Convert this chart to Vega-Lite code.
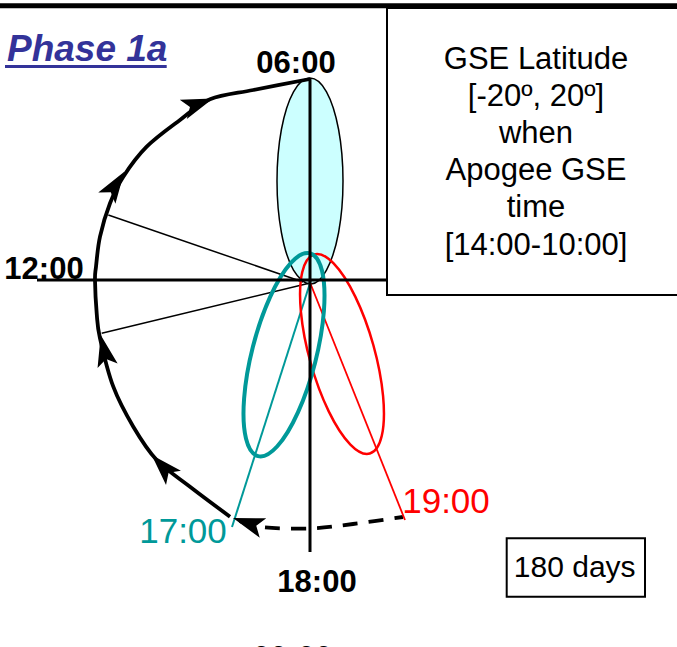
{
  "$schema": "https://vega.github.io/schema/vega-lite/v6.json",
  "width": 677,
  "height": 647,
  "padding": 0,
  "autosize": {"type": "none"},
  "config": {"view": {"stroke": null}},
  "datasets": {
    "blue": [
      {"i":0,"x":0,"y":202},{"i":1,"x":16.5,"y":188.2},{"i":2,"x":28.6,"y":150.5},{"i":3,"x":33,"y":99},
      {"i":4,"x":28.6,"y":47.5},{"i":5,"x":16.5,"y":9.8},{"i":6,"x":1,"y":-4},{"i":7,"x":-16.5,"y":9.8},
      {"i":8,"x":-28.6,"y":47.5},{"i":9,"x":-33,"y":99},{"i":10,"x":-28.6,"y":150.5},{"i":11,"x":-16.5,"y":188.2}
    ],
    "teal": [
      {"i":0,"x":-0.05,"y":26.73},{"i":1,"x":12.02,"y":9.16},{"i":2,"x":13.91,"y":-30.87},{"i":3,"x":5.1,"y":-82.66},
      {"i":4,"x":-12.05,"y":-132.31},{"i":5,"x":-32.92,"y":-166.52},{"i":6,"x":-51.95,"y":-176.13},{"i":7,"x":-64.02,"y":-158.56},
      {"i":8,"x":-65.91,"y":-118.53},{"i":9,"x":-57.1,"y":-66.74},{"i":10,"x":-39.95,"y":-17.09},{"i":11,"x":-19.08,"y":17.12}
    ],
    "red": [
      {"i":0,"x":4.19,"y":25.57},{"i":1,"x":23.62,"y":16.62},{"i":2,"x":45.27,"y":-16.62},{"i":3,"x":63.39,"y":-65.23},
      {"i":4,"x":73.09,"y":-116.2},{"i":5,"x":71.78,"y":-155.84},{"i":6,"x":59.81,"y":-173.57},{"i":7,"x":40.38,"y":-164.62},
      {"i":8,"x":18.73,"y":-131.38},{"i":9,"x":0.61,"y":-82.77},{"i":10,"x":-9.09,"y":-31.8},{"i":11,"x":-7.78,"y":7.84}
    ],
    "orbit": [
      {"i":0,"x":0,"y":201},{"i":1,"x":-56.7,"y":190},{"i":2,"x":-100,"y":180.7},{"i":3,"x":-130,"y":160},
      {"i":4,"x":-163.3,"y":133.3},{"i":5,"x":-186.7,"y":103.3},{"i":6,"x":-200,"y":76.7},{"i":7,"x":-210,"y":43.3},
      {"i":8,"x":-214,"y":13.3},{"i":9,"x":-215,"y":0},{"i":10,"x":-213.3,"y":-33.3},{"i":11,"x":-210,"y":-58.3},
      {"i":12,"x":-196.7,"y":-106.7},{"i":13,"x":-176.7,"y":-146.7},{"i":14,"x":-153.3,"y":-180},{"i":15,"x":-120,"y":-206.7},
      {"i":16,"x":-80,"y":-236.7}
    ],
    "dashed": [
      {"i":0,"x":-70,"y":-241},{"i":1,"x":-50,"y":-247},{"i":2,"x":0,"y":-248.5},{"i":3,"x":43,"y":-244},{"i":4,"x":93,"y":-237}
    ],
    "axes": [
      {"x1":0,"y1":202,"x2":0,"y2":-272},
      {"x1":-273,"y1":0,"x2":77,"y2":0}
    ],
    "topbar": [{"x1":-310,"y1":274.2,"x2":367,"y2":274.2}],
    "thinblack": [
      {"x1":-201.7,"y1":65,"x2":-7,"y2":-2},
      {"x1":-208.3,"y1":-53.3,"x2":0,"y2":-3}
    ],
    "thinteal": [{"x1":1,"y1":0,"x2":-78,"y2":-247}],
    "thinred": [{"x1":-1,"y1":0,"x2":95,"y2":-240}],
    "underline": [{"x1":-305,"y1":213.5,"x2":-143.3,"y2":213.5}],
    "arrows": [
      {"x":-97,"y":181.5,"dir":70},
      {"x":-185.7,"y":108.3,"dir":33.5},
      {"x":-209.3,"y":-55,"dir":-12.6},
      {"x":-158.3,"y":-175,"dir":-43.5},
      {"x":-77,"y":-238,"dir":-71.6}
    ],
    "boxes": [
      {"x1":77,"x2":400,"y1":272,"y2":-15},
      {"x1":196.7,"x2":335,"y1":-258.3,"y2":-316.7}
    ],
    "boldlabels": [
      {"x":-14,"y":207.3,"label":"06:00"},
      {"x":-266,"y":1,"label":"12:00"},
      {"x":7,"y":-311.7,"label":"18:00"},
      {"x":-17.5,"y":-388,"label":"00:00"}
    ],
    "title": [{"x":-303,"y":219,"label":"Phase 1a"}],
    "teallabel": [{"x":-127,"y":-263.3,"label":"17:00"}],
    "redlabel": [{"x":136,"y":-233.3,"label":"19:00"}],
    "boxtext": [{"x":226,"y":211.5,"label":"GSE Latitude\n\u00a0[-20º, 20º]\nwhen\u00a0\nApogee GSE\ntime\n[14:00-10:00]"}],
    "daystext": [{"x":264.7,"y":-288,"label":"180 days"}]
  },
  "layer": [
    {
      "data": {"name": "blue"},
      "mark": {"type": "line", "interpolate": "cardinal-closed", "fill": "#ccffff", "stroke": "black", "strokeWidth": 1.5},
      "encoding": {
        "x": {"field": "x", "type": "quantitative", "axis": null, "scale": {"domain": [-310, 367], "nice": false, "zero": false}},
        "y": {"field": "y", "type": "quantitative", "axis": null, "scale": {"domain": [-367, 280], "nice": false, "zero": false}},
        "order": {"field": "i"}
      }
    },
    {
      "data": {"name": "topbar"},
      "mark": {"type": "rule", "color": "black", "strokeWidth": 5},
      "encoding": {
        "x": {"field": "x1", "type": "quantitative", "axis": null, "scale": {"domain": [-310, 367], "nice": false, "zero": false}},
        "y": {"field": "y1", "type": "quantitative", "axis": null, "scale": {"domain": [-367, 280], "nice": false, "zero": false}},
        "x2": {"field": "x2"},
        "y2": {"field": "y2"}
      }
    },
    {
      "data": {"name": "thinblack"},
      "mark": {"type": "rule", "color": "black", "strokeWidth": 1.5},
      "encoding": {
        "x": {"field": "x1", "type": "quantitative", "axis": null, "scale": {"domain": [-310, 367], "nice": false, "zero": false}},
        "y": {"field": "y1", "type": "quantitative", "axis": null, "scale": {"domain": [-367, 280], "nice": false, "zero": false}},
        "x2": {"field": "x2"},
        "y2": {"field": "y2"}
      }
    },
    {
      "data": {"name": "orbit"},
      "mark": {"type": "line", "interpolate": "cardinal", "color": "black", "strokeWidth": 3.8},
      "encoding": {
        "x": {"field": "x", "type": "quantitative", "axis": null, "scale": {"domain": [-310, 367], "nice": false, "zero": false}},
        "y": {"field": "y", "type": "quantitative", "axis": null, "scale": {"domain": [-367, 280], "nice": false, "zero": false}},
        "order": {"field": "i"}
      }
    },
    {
      "data": {"name": "dashed"},
      "mark": {"type": "line", "interpolate": "cardinal", "color": "black", "strokeWidth": 3.8, "strokeDash": [15, 11]},
      "encoding": {
        "x": {"field": "x", "type": "quantitative", "axis": null, "scale": {"domain": [-310, 367], "nice": false, "zero": false}},
        "y": {"field": "y", "type": "quantitative", "axis": null, "scale": {"domain": [-367, 280], "nice": false, "zero": false}},
        "order": {"field": "i"}
      }
    },
    {
      "data": {"name": "thinteal"},
      "mark": {"type": "rule", "color": "#009999", "strokeWidth": 2},
      "encoding": {
        "x": {"field": "x1", "type": "quantitative", "axis": null, "scale": {"domain": [-310, 367], "nice": false, "zero": false}},
        "y": {"field": "y1", "type": "quantitative", "axis": null, "scale": {"domain": [-367, 280], "nice": false, "zero": false}},
        "x2": {"field": "x2"},
        "y2": {"field": "y2"}
      }
    },
    {
      "data": {"name": "thinred"},
      "mark": {"type": "rule", "color": "#ff0000", "strokeWidth": 1.8},
      "encoding": {
        "x": {"field": "x1", "type": "quantitative", "axis": null, "scale": {"domain": [-310, 367], "nice": false, "zero": false}},
        "y": {"field": "y1", "type": "quantitative", "axis": null, "scale": {"domain": [-367, 280], "nice": false, "zero": false}},
        "x2": {"field": "x2"},
        "y2": {"field": "y2"}
      }
    },
    {
      "data": {"name": "red"},
      "mark": {"type": "line", "interpolate": "cardinal-closed", "color": "#ff0000", "strokeWidth": 2.5},
      "encoding": {
        "x": {"field": "x", "type": "quantitative", "axis": null, "scale": {"domain": [-310, 367], "nice": false, "zero": false}},
        "y": {"field": "y", "type": "quantitative", "axis": null, "scale": {"domain": [-367, 280], "nice": false, "zero": false}},
        "order": {"field": "i"}
      }
    },
    {
      "data": {"name": "teal"},
      "mark": {"type": "line", "interpolate": "cardinal-closed", "color": "#009999", "strokeWidth": 4},
      "encoding": {
        "x": {"field": "x", "type": "quantitative", "axis": null, "scale": {"domain": [-310, 367], "nice": false, "zero": false}},
        "y": {"field": "y", "type": "quantitative", "axis": null, "scale": {"domain": [-367, 280], "nice": false, "zero": false}},
        "order": {"field": "i"}
      }
    },
    {
      "data": {"name": "axes"},
      "mark": {"type": "rule", "color": "black", "strokeWidth": 3},
      "encoding": {
        "x": {"field": "x1", "type": "quantitative", "axis": null, "scale": {"domain": [-310, 367], "nice": false, "zero": false}},
        "y": {"field": "y1", "type": "quantitative", "axis": null, "scale": {"domain": [-367, 280], "nice": false, "zero": false}},
        "x2": {"field": "x2"},
        "y2": {"field": "y2"}
      }
    },
    {
      "data": {"name": "arrows"},
      "mark": {"type": "point", "shape": "M0,0 L0.65,2 L0,1.55 L-0.65,2 Z", "filled": true, "color": "black", "opacity": 1, "size": 1000, "strokeWidth": 0},
      "encoding": {
        "x": {"field": "x", "type": "quantitative", "axis": null, "scale": {"domain": [-310, 367], "nice": false, "zero": false}},
        "y": {"field": "y", "type": "quantitative", "axis": null, "scale": {"domain": [-367, 280], "nice": false, "zero": false}},
        "angle": {"field": "dir", "type": "quantitative", "scale": null}
      }
    },
    {
      "data": {"name": "underline"},
      "mark": {"type": "rule", "color": "#333399", "strokeWidth": 3},
      "encoding": {
        "x": {"field": "x1", "type": "quantitative", "axis": null, "scale": {"domain": [-310, 367], "nice": false, "zero": false}},
        "y": {"field": "y1", "type": "quantitative", "axis": null, "scale": {"domain": [-367, 280], "nice": false, "zero": false}},
        "x2": {"field": "x2"},
        "y2": {"field": "y2"}
      }
    },
    {
      "data": {"name": "boxes"},
      "mark": {"type": "rect", "fill": "white", "stroke": "black", "strokeWidth": 2},
      "encoding": {
        "x": {"field": "x1", "type": "quantitative", "axis": null, "scale": {"domain": [-310, 367], "nice": false, "zero": false}},
        "y": {"field": "y1", "type": "quantitative", "axis": null, "scale": {"domain": [-367, 280], "nice": false, "zero": false}},
        "x2": {"field": "x2"},
        "y2": {"field": "y2"}
      }
    },
    {
      "data": {"name": "title"},
      "mark": {"type": "text", "font": "Liberation Sans", "fontSize": 37, "fontWeight": "bold", "fontStyle": "italic", "color": "#333399", "align": "left", "baseline": "alphabetic"},
      "encoding": {
        "x": {"field": "x", "type": "quantitative", "axis": null, "scale": {"domain": [-310, 367], "nice": false, "zero": false}},
        "y": {"field": "y", "type": "quantitative", "axis": null, "scale": {"domain": [-367, 280], "nice": false, "zero": false}},
        "text": {"field": "label"}
      }
    },
    {
      "data": {"name": "boldlabels"},
      "mark": {"type": "text", "font": "Liberation Sans", "fontSize": 31, "fontWeight": "bold", "color": "black", "align": "center", "baseline": "alphabetic"},
      "encoding": {
        "x": {"field": "x", "type": "quantitative", "axis": null, "scale": {"domain": [-310, 367], "nice": false, "zero": false}},
        "y": {"field": "y", "type": "quantitative", "axis": null, "scale": {"domain": [-367, 280], "nice": false, "zero": false}},
        "text": {"field": "label"}
      }
    },
    {
      "data": {"name": "teallabel"},
      "mark": {"type": "text", "font": "Liberation Sans", "fontSize": 35, "color": "#009999", "align": "center", "baseline": "alphabetic"},
      "encoding": {
        "x": {"field": "x", "type": "quantitative", "axis": null, "scale": {"domain": [-310, 367], "nice": false, "zero": false}},
        "y": {"field": "y", "type": "quantitative", "axis": null, "scale": {"domain": [-367, 280], "nice": false, "zero": false}},
        "text": {"field": "label"}
      }
    },
    {
      "data": {"name": "redlabel"},
      "mark": {"type": "text", "font": "Liberation Sans", "fontSize": 35, "color": "#ff0000", "align": "center", "baseline": "alphabetic"},
      "encoding": {
        "x": {"field": "x", "type": "quantitative", "axis": null, "scale": {"domain": [-310, 367], "nice": false, "zero": false}},
        "y": {"field": "y", "type": "quantitative", "axis": null, "scale": {"domain": [-367, 280], "nice": false, "zero": false}},
        "text": {"field": "label"}
      }
    },
    {
      "data": {"name": "boxtext"},
      "mark": {"type": "text", "font": "Liberation Sans", "fontSize": 31, "color": "black", "align": "center", "baseline": "alphabetic", "lineBreak": "\n", "lineHeight": 37.2},
      "encoding": {
        "x": {"field": "x", "type": "quantitative", "axis": null, "scale": {"domain": [-310, 367], "nice": false, "zero": false}},
        "y": {"field": "y", "type": "quantitative", "axis": null, "scale": {"domain": [-367, 280], "nice": false, "zero": false}},
        "text": {"field": "label"}
      }
    },
    {
      "data": {"name": "daystext"},
      "mark": {"type": "text", "font": "Liberation Sans", "fontSize": 30, "color": "black", "align": "center", "baseline": "middle"},
      "encoding": {
        "x": {"field": "x", "type": "quantitative", "axis": null, "scale": {"domain": [-310, 367], "nice": false, "zero": false}},
        "y": {"field": "y", "type": "quantitative", "axis": null, "scale": {"domain": [-367, 280], "nice": false, "zero": false}},
        "text": {"field": "label"}
      }
    }
  ]
}
